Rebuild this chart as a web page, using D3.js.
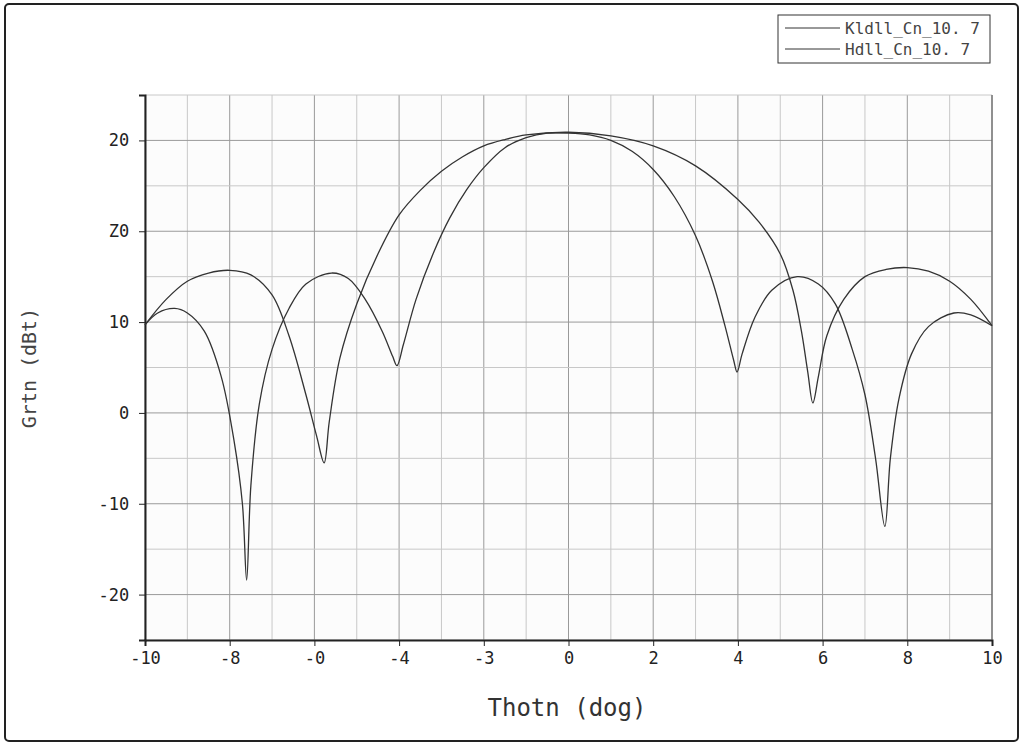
<!DOCTYPE html>
<html><head><meta charset="utf-8">
<script src="https://cdn.jsdelivr.net/npm/d3@7"></script>
<style>body{margin:0;background:#fff}</style></head>
<body><svg id="c" width="1024" height="746"></svg>
<script>
const xTickVals=[-10,-8,-6,-4,-2,0,2,4,6,8,10];
const xTickLabels=["-10","-8","-0","-4","-3","0","2","4","6","8","10"];
const yTickVals=[-20,-10,0,10,20,30];
const yTickLabels=["-20","-10","0","10","Z0","20"];
const seriesNames=["Kldll_Cn_10. 7","Hdll_Cn_10. 7"];
const seriesA=[[-10,9.7],[-9.7,11],[-9.3,11.5],[-9,11],[-8.6,9],[-8.2,4],[-7.9,-3],[-7.7,-10],[-7.6,-18.4],[-7.5,-8],[-7.3,1],[-7,7],[-6.6,11.5],[-6.2,14.2],[-5.6,15.4],[-5.2,14.8],[-4.8,12.5],[-4.4,9],[-4.15,6.2],[-4.05,5.2],[-3.9,7.5],[-3.6,12.5],[-3.2,17.5],[-2.8,21.5],[-2.4,24.6],[-2,27],[-1.5,29.2],[-1,30.3],[-0.5,30.8],[0,30.8],[0.5,30.6],[1,30],[1.5,28.8],[2,26.8],[2.5,23.8],[3,19.5],[3.4,14.5],[3.7,9.5],[3.9,5.8],[3.98,4.5],[4.1,6.5],[4.4,10.5],[4.8,13.5],[5.4,15],[5.9,14.2],[6.3,12],[6.7,7],[7,2],[7.25,-5],[7.47,-12.5],[7.6,-5],[7.8,1.5],[8.1,6.5],[8.5,9.5],[9.1,11],[9.5,10.8],[10,9.6]];
const seriesB=[[-10,9.7],[-9.5,12.5],[-9,14.5],[-8.5,15.4],[-8,15.7],[-7.5,15.2],[-7,13],[-6.6,8.5],[-6.2,2],[-5.95,-2.5],[-5.77,-5.5],[-5.65,-1],[-5.4,6],[-5,12],[-4.5,17.5],[-4,21.8],[-3.5,24.5],[-3,26.6],[-2.5,28.2],[-2,29.4],[-1.5,30.1],[-1,30.6],[0,30.9],[1,30.5],[2,29.4],[3,27.2],[4,23.5],[4.5,21],[5,17.5],[5.3,13.5],[5.5,9],[5.65,4.5],[5.77,1.1],[5.9,4],[6.1,8.5],[6.5,12.5],[7,15],[7.5,15.8],[8,16],[8.5,15.6],[9,14.5],[9.5,12.5],[10,9.6]];

const svg=d3.select("#c");
const L=145,R=992,T=95,B=640;
const x=d3.scaleLinear().domain([-10,10]).range([L,R]);
const y=d3.scaleLinear().domain([-25,35]).range([B,T]);
const font="'DejaVu Sans Mono', monospace";
svg.append("rect").attr("x",5).attr("y",4).attr("width",1013).attr("height",737).attr("rx",4)
  .attr("fill","#fff").attr("stroke","#222").attr("stroke-width",2);
svg.append("rect").attr("x",L).attr("y",T).attr("width",R-L).attr("height",B-T).attr("fill","#fcfcfc");
const g=svg.append("g");
g.selectAll(".vg").data(d3.range(-10,10.01,1)).join("line")
  .attr("x1",d=>x(d)).attr("x2",d=>x(d)).attr("y1",T).attr("y2",B)
  .attr("stroke",d=>d%2===0?"#9a9a9a":"#c8c8c8").attr("stroke-width",1);
g.selectAll(".hg").data(d3.range(-25,35.01,5)).join("line")
  .attr("y1",d=>y(d)).attr("y2",d=>y(d)).attr("x1",L).attr("x2",R)
  .attr("stroke",d=>d%10===0?"#9a9a9a":"#c8c8c8").attr("stroke-width",1);
const xa=svg.append("g").attr("transform",`translate(0,${B})`)
  .call(d3.axisBottom(x).tickValues(xTickVals).tickFormat((d,i)=>xTickLabels[i]).tickSize(6));
xa.selectAll("text").attr("font-family",font).attr("font-size",17).attr("fill","#222").attr("dy","0.9em");
const ya=svg.append("g").attr("transform",`translate(${L},0)`)
  .call(d3.axisLeft(y).tickValues(yTickVals).tickFormat((d,i)=>yTickLabels[i]).tickSize(6));
ya.selectAll("text").attr("font-family",font).attr("font-size",17).attr("fill","#222").attr("dx","-0.4em");
[xa,ya].forEach(a=>{a.select(".domain").attr("stroke","#222").attr("stroke-width",2);a.selectAll(".tick line").attr("stroke","#222");});
svg.append("line").attr("x1",R).attr("x2",R).attr("y1",T).attr("y2",B).attr("stroke","#555");
const line=d3.line().x(d=>x(d[0])).y(d=>y(d[1])).curve(d3.curveCatmullRom.alpha(0.5));
[seriesA,seriesB].forEach(s=>svg.append("path").attr("d",line(s)).attr("fill","none").attr("stroke","#333").attr("stroke-width",1.3));
svg.append("text").attr("x",567).attr("y",716).attr("text-anchor","middle").attr("font-family",font)
  .attr("font-size",24).attr("fill","#333").text("Thotn (dog)");
svg.append("text").attr("transform","translate(36,368) rotate(-90)").attr("text-anchor","middle")
  .attr("font-family",font).attr("font-size",20).attr("fill","#444").text("Grtn (dBt)");
const lg=svg.append("g");
lg.append("rect").attr("x",778).attr("y",15).attr("width",212).attr("height",48).attr("fill","#fff").attr("stroke","#333");
seriesNames.forEach((n,i)=>{
  const yy=28+i*21;
  lg.append("line").attr("x1",785).attr("x2",840).attr("y1",yy).attr("y2",yy).attr("stroke","#333");
  lg.append("text").attr("x",845).attr("y",yy+6).attr("font-family",font).attr("font-size",16).attr("fill","#444").text(n);
});
</script></body></html>
